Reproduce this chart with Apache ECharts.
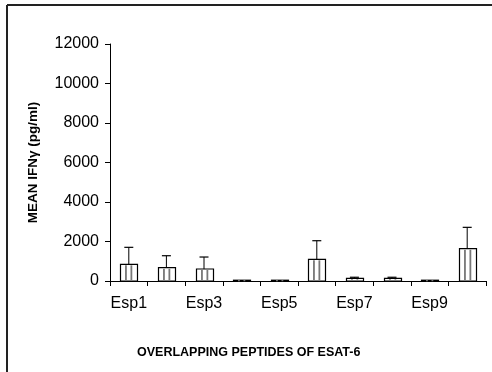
<!DOCTYPE html>
<html>
<head>
<meta charset="utf-8">
<script src="https://cdn.jsdelivr.net/npm/echarts@6/dist/echarts.min.js"></script>
<style>
html,body{margin:0;padding:0;background:#fff;}
#chart{width:492px;height:372px;}
</style>
</head>
<body>
<div id="chart"></div>
<script>
const categories = ['Esp1','Esp2','Esp3','Esp4','Esp5','Esp6','Esp7','Esp8','Esp9','Esp10'];
const means = [845, 673, 607, 40, 40, 1098, 136, 136, 40, 1635];
const errorTops = [1705, 1280, 1214, 40, 40, 2040, 190, 190, 40, 2717];
const yMin = 0, yMax = 12000, yStep = 2000;
const yTitle = 'MEAN IFN{g|γ} (pg/ml)';
const xTitle = 'OVERLAPPING PEPTIDES OF ESAT-6';

const FONT = 'Arial, "Liberation Sans", sans-serif';
const chart = echarts.init(document.getElementById('chart'), null, {renderer: 'canvas'});

const seriesData = categories.map((c, i) => [i, means[i], errorTops[i]]);

function renderItem(params, api) {
  const idx = api.value(0);
  const mean = api.value(1);
  const top = api.value(2);
  const base = api.coord([idx, 0]);
  const tip = api.coord([idx, mean]);
  const err = api.coord([idx, top]);
  const band = api.size([1, 0])[0];
  const w = Math.round(band * 0.45);
  const x0 = Math.round(base[0] - w / 2) + 0.5;
  const y0 = tip[1];
  const h = base[1] - tip[1];
  const children = [];
  if (top > mean) {
    children.push({
      type: 'line',
      shape: {x1: base[0], y1: y0, x2: base[0], y2: err[1]},
      style: {stroke: '#000', lineWidth: 1}
    });
    children.push({
      type: 'line',
      shape: {x1: base[0] - 4.5, y1: err[1], x2: base[0] + 4.5, y2: err[1]},
      style: {stroke: '#000', lineWidth: 1.2}
    });
  }
  children.push({
    type: 'rect',
    shape: {x: x0, y: y0, width: w, height: h},
    style: {fill: '#fff', stroke: '#000', lineWidth: 1.2}
  });
  [0.32, 0.64].forEach(f => {
    const lx = x0 + w * f;
    children.push({
      type: 'line',
      shape: {x1: lx, y1: y0 + 1, x2: lx, y2: base[1] - 1},
      style: {stroke: '#777', lineWidth: 1.8}
    });
  });
  return {type: 'group', children};
}

const option = {
  backgroundColor: '#fff',
  animation: false,
  grid: {left: 110, right: 6, top: 44, bottom: 91, containLabel: false},
  xAxis: {
    type: 'category',
    data: categories,
    boundaryGap: true,
    axisLine: {lineStyle: {color: '#000', width: 1}},
    axisTick: {show: true, interval: 0, length: 5, lineStyle: {color: '#000'}},
    axisLabel: {interval: 1, color: '#000', fontSize: 16, fontFamily: FONT, margin: 15}
  },
  yAxis: {
    type: 'value',
    min: yMin, max: yMax, interval: yStep,
    name: yTitle,
    nameLocation: 'middle',
    nameGap: 70,
    nameTextStyle: {
      color: '#000', fontSize: 13.5, fontWeight: 'bold', fontFamily: FONT,
      rich: {g: {fontSize: 13.5, fontWeight: 'bold', fontFamily: FONT, color: '#000'}}
    },
    axisLine: {show: true, lineStyle: {color: '#000', width: 1}},
    axisTick: {show: true, length: 5, lineStyle: {color: '#000'}},
    splitLine: {show: false},
    axisLabel: {color: '#000', fontSize: 16, fontFamily: FONT, margin: 11,
      formatter: v => String(v)}
  },
  series: [{
    type: 'custom',
    renderItem: renderItem,
    data: seriesData,
    encode: {x: 0, y: [1, 2]},
    clip: false
  }],
  graphic: [
    {type: 'text', left: 250 - 113, top: 346,
     style: {text: xTitle, fill: '#000', font: 'bold 12.5px ' + FONT}},
    {type: 'line', shape: {x1: 7, y1: 5, x2: 492, y2: 5}, style: {stroke: '#222', lineWidth: 2}},
    {type: 'line', shape: {x1: 7, y1: 5, x2: 7, y2: 372}, style: {stroke: '#222', lineWidth: 2}}
  ]
};
chart.setOption(option);
</script>
</body>
</html>
